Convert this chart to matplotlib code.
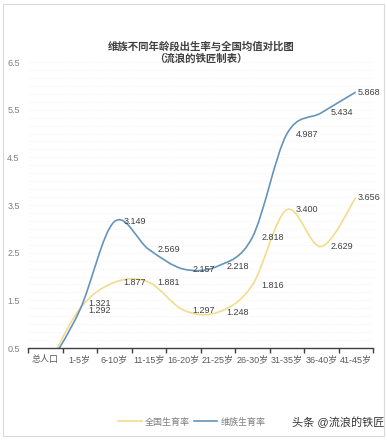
import matplotlib
matplotlib.use("Agg")
import matplotlib.pyplot as plt
import numpy as np
from matplotlib.path import Path
from matplotlib.patches import PathPatch, Rectangle
from matplotlib.lines import Line2D
from matplotlib.ticker import FixedLocator, MultipleLocator

plt.rcParams['font.family'] = ['Liberation Sans', 'Noto Sans CJK SC']

ages = ['总人口', '1-5岁', '6-10岁', '11-15岁', '16-20岁', '21-25岁',
        '26-30岁', '31-35岁', '36-40岁', '41-45岁']
national = [0.0, 1.321, 1.877, 1.881, 1.297, 1.248, 1.816, 3.400, 2.629, 3.656]
uyghur = [0.0, 1.292, 3.149, 2.569, 2.157, 2.218, 2.818, 4.987, 5.434, 5.868]

c_nat = '#F2DC8C'
c_uyg = '#6494BC'


def smooth_path(xs, ys):
    # excel-like smoothed line: cubic bezier with catmull-rom handles
    p = np.column_stack([xs, ys]).astype(float)
    n = len(p)
    verts = [p[0]]
    codes = [Path.MOVETO]
    for i in range(n - 1):
        prev = p[max(i - 1, 0)]
        nxt = p[min(i + 2, n - 1)]
        c1 = p[i] + (p[i + 1] - prev) / 6
        c2 = p[i + 1] - (nxt - p[i]) / 6
        verts += [c1, c2, p[i + 1]]
        codes += [Path.CURVE4] * 3
    return Path(verts, codes)


fig = plt.figure(figsize=(3.87, 4.40), dpi=100)
fig.patches.append(Rectangle((3 / 387, 4 / 440), 381 / 387, 432 / 440,
                             transform=fig.transFigure, fill=False,
                             ec='#d9d9d9', lw=0.8))
ax = fig.add_axes([28 / 387, 1 - 348 / 440, 345 / 387, 286 / 440])

x = np.arange(len(ages))
for vals, col in [(national, c_nat), (uyghur, c_uyg)]:
    ax.add_patch(PathPatch(smooth_path(x, vals), fill=False, ec=col, lw=1.2))

ax.set_xlim(-0.5, len(ages) - 0.5)
ax.set_ylim(0.5, 6.5)

# data labels (right of point)
for vals in [national, uyghur]:
    for i in range(1, len(ages)):
        dx = 1.2 if i == len(ages) - 1 else 6.5
        dy = 0
        if vals[i] == 1.321:
            dy = 4
        ax.annotate(f'{vals[i]:.3f}', (x[i], vals[i]), xytext=(dx, dy),
                    textcoords='offset points', ha='left', va='center',
                    fontsize=6.5, color='#404040')

# axes styling
for s in ['top', 'right', 'left']:
    ax.spines[s].set_visible(False)
ax.spines['bottom'].set_color('#404040')
ax.spines['bottom'].set_linewidth(1.0)

ax.xaxis.set_major_locator(FixedLocator(np.arange(-0.5, len(ages), 1.0)))
ax.xaxis.set_minor_locator(FixedLocator(x))
ax.set_xticklabels([], minor=False)
ax.set_xticklabels(ages, minor=True)
ax.tick_params(axis='x', which='major', length=3.5, width=1.0, color='#404040',
               direction='out')
ax.tick_params(axis='x', which='minor', length=0, pad=5, labelsize=6.5,
               labelcolor='#595959')

ax.set_yticks(np.arange(0.5, 6.6, 1.0))
ax.yaxis.set_minor_locator(MultipleLocator(1 / 6))
ax.tick_params(axis='y', which='both', length=0, pad=6, labelsize=6.5,
               labelcolor='#7f7f7f')
ax.grid(axis='y', which='both', color='#ececec', lw=0.5, ls=(0, (1, 1.5)))
ax.set_axisbelow(True)

fig.text(201 / 387, 1 - 46 / 440, '维族不同年龄段出生率与全国均值对比图',
         ha='center', va='center', fontsize=7.5, fontweight='bold', color='#404040')
fig.text(201 / 387, 1 - 59 / 440, '（流浪的铁匠制表）',
         ha='center', va='center', fontsize=7.5, fontweight='bold', color='#404040')

handles = [Line2D([], [], color=c_nat, lw=1.2), Line2D([], [], color=c_uyg, lw=1.2)]
fig.legend(handles, ['全国生育率', '维族生育率'], loc='center',
           bbox_to_anchor=(192 / 387, 1 - 422 / 440), ncol=2, frameon=False,
           fontsize=6.5, labelcolor='#7f7f7f', handlelength=2.6,
           columnspacing=0.4, handletextpad=0.4)

fig.text(338 / 387, 1 - 422 / 440, '头条 @流浪的铁匠', ha='center', va='center',
         fontsize=8, color='#333333')

fig.savefig('out.png', dpi=100)
